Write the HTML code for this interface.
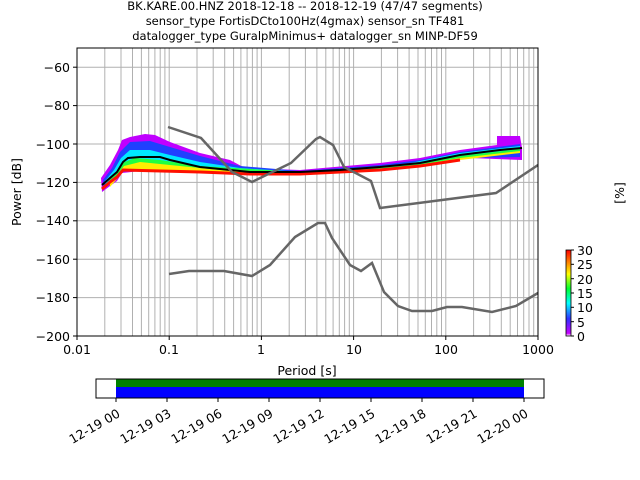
<!DOCTYPE html>
<html><head><meta charset="utf-8"><style>
body{margin:0;background:#fff;}
svg{display:block;font-family:"DejaVu Sans","Liberation Sans",sans-serif;}
</style></head><body>
<svg width="640" height="480" viewBox="0 0 640 480">
<defs>
<clipPath id="c"><rect x="77" y="48" width="461" height="288"/></clipPath>
<linearGradient id="cb" x1="0" y1="1" x2="0" y2="0">
<stop offset="0" stop-color="#ffffff"/><stop offset="0.03" stop-color="#c800ff"/>
<stop offset="0.2" stop-color="#3030ff"/><stop offset="0.38" stop-color="#00ffff"/>
<stop offset="0.55" stop-color="#00ff30"/><stop offset="0.72" stop-color="#ffff00"/>
<stop offset="0.86" stop-color="#ff8000"/><stop offset="1" stop-color="#ff0000"/>
</linearGradient>
</defs>
<g font-size="11.5" text-anchor="middle" fill="#000" xml:space="preserve">
<text x="305" y="10">BK.KARE.00.HNZ   2018-12-18 -- 2018-12-19  (47/47 segments)</text>
<text x="305" y="25">sensor_type FortisDCto100Hz(4gmax) sensor_sn TF481</text>
<text x="305" y="40">datalogger_type GuralpMinimus+ datalogger_sn MINP-DF59</text>
</g>
<g stroke="#b0b0b0" stroke-width="1">
<g id="dec">
<line x1="77" y1="48" x2="77" y2="336"/><line x1="104.8" y1="48" x2="104.8" y2="336"/><line x1="121" y1="48" x2="121" y2="336"/><line x1="132.5" y1="48" x2="132.5" y2="336"/><line x1="141.4" y1="48" x2="141.4" y2="336"/><line x1="148.7" y1="48" x2="148.7" y2="336"/><line x1="154.9" y1="48" x2="154.9" y2="336"/><line x1="160.2" y1="48" x2="160.2" y2="336"/><line x1="164.9" y1="48" x2="164.9" y2="336"/>
</g>
<use href="#dec" x="92.2"/><use href="#dec" x="184.4"/><use href="#dec" x="276.6"/><use href="#dec" x="368.8"/>
<line x1="77" y1="67.2" x2="538" y2="67.2"/><line x1="77" y1="105.6" x2="538" y2="105.6"/><line x1="77" y1="144" x2="538" y2="144"/><line x1="77" y1="182.4" x2="538" y2="182.4"/><line x1="77" y1="220.8" x2="538" y2="220.8"/><line x1="77" y1="259.2" x2="538" y2="259.2"/><line x1="77" y1="297.6" x2="538" y2="297.6"/>
</g>
<g clip-path="url(#c)">
<polygon fill="#c000ff" points="101,178 110,165 118,150 122,140 130,137 145,134 155,135 170,142 200,153 230,160 245,168 300,170 380,163 420,158 460,150 497,145 497,136 520,136 522,148 522,160 470,158 420,166 380,170 300,174 250,174 200,173 170,172 140,171 122,173 117,181 110,186 102,192"/>
<polygon fill="#2040ff" points="103,180 112,168 120,152 130,142 150,141 170,147 200,156 240,166 300,171 380,165 420,160 460,152 520,144 520,157 470,158 420,165 380,169 300,173 200,172 140,170 122,172 115,180 104,188"/>
<polygon fill="#00e8ff" points="105,181 114,170 121,158 130,150 150,150 170,155 200,162 240,168 300,172 400,165 460,153 520,146 520,153 470,156 420,164 380,168 300,173 200,171 140,168 122,170 115,178 106,186"/>
<polygon fill="#20ff40" points="108,182 116,172 122,163 135,158 160,160 200,166 300,172 400,166 460,156 520,149 520,152 460,159 400,168 300,174 200,171 140,169 122,171 116,178 108,186"/>
<polygon fill="#ffee00" points="110,183 118,174 124,166 140,162 170,165 220,170 300,173 400,168 460,158 520,151 520,153 460,160 400,169 300,174.5 220,172 160,170 124,171 116,180 110,187"/>
<polyline fill="none" stroke="#ff1000" stroke-width="3" points="102,189 110,182 117,177 123,170 200,172 250,174 300,174 380,170 420,166 460,160"/>
<polyline fill="none" stroke="#000" stroke-width="2" points="102,185 110,178 117,172 123,162 128,158 140,157 160,157 170,160 200,167 230,170 250,172 300,172 340,170 380,167 420,163 460,155 500,150 522,148"/>
<g fill="none" stroke="#666" stroke-width="2.5">
<polyline points="168,127 201,138 232,172 252,182 291,163 316,139 320,137 333,145 344,167 371,181 380,208 496,193 538,165"/>
<polyline points="169,274 189,271 224,271 252,276 270,265 295,237 318,223 325,223 332,238 350,265 361,271 372,263 384,292 398,306 412,311 432,311 447,307 462,307 492,312 516,306 538,293"/>
</g>
</g>
<rect x="77" y="48" width="461" height="288" fill="none" stroke="#000" stroke-width="1"/>
<g stroke="#000"><line x1="73" y1="67.2" x2="77" y2="67.2"/><line x1="73" y1="105.6" x2="77" y2="105.6"/><line x1="73" y1="144" x2="77" y2="144"/><line x1="73" y1="182.4" x2="77" y2="182.4"/><line x1="73" y1="220.8" x2="77" y2="220.8"/><line x1="73" y1="259.2" x2="77" y2="259.2"/><line x1="73" y1="297.6" x2="77" y2="297.6"/><line x1="73" y1="336" x2="77" y2="336"/>
<line x1="77" y1="336" x2="77" y2="340"/><line x1="169.2" y1="336" x2="169.2" y2="340"/><line x1="261.4" y1="336" x2="261.4" y2="340"/><line x1="353.6" y1="336" x2="353.6" y2="340"/><line x1="445.8" y1="336" x2="445.8" y2="340"/><line x1="538" y1="336" x2="538" y2="340"/></g>
<g font-size="12.5" text-anchor="end"><text x="70" y="72">−60</text><text x="70" y="110">−80</text><text x="70" y="149">−100</text><text x="70" y="187">−120</text><text x="70" y="225">−140</text><text x="70" y="264">−160</text><text x="70" y="302">−180</text><text x="70" y="341">−200</text></g>
<g font-size="12.5" text-anchor="middle"><text x="77" y="354">0.01</text><text x="169" y="354">0.1</text><text x="261" y="354">1</text><text x="354" y="354">10</text><text x="446" y="354">100</text><text x="538" y="354">1000</text>
<text x="307" y="375">Period [s]</text></g>
<text font-size="12.5" text-anchor="middle" transform="translate(21,192) rotate(-90)">Power [dB]</text>
<rect x="566" y="250" width="5" height="86" fill="url(#cb)" stroke="#000" stroke-width="0.8"/>
<g font-size="12.5"><text x="577" y="255">30</text><text x="577" y="269">25</text><text x="577" y="284">20</text><text x="577" y="298">15</text><text x="577" y="312">10</text><text x="577" y="327">5</text><text x="577" y="341">0</text></g>
<g stroke="#000"><line x1="571" y1="250" x2="574" y2="250"/><line x1="571" y1="264.3" x2="574" y2="264.3"/><line x1="571" y1="278.7" x2="574" y2="278.7"/><line x1="571" y1="293" x2="574" y2="293"/><line x1="571" y1="307.3" x2="574" y2="307.3"/><line x1="571" y1="321.7" x2="574" y2="321.7"/><line x1="571" y1="336" x2="574" y2="336"/></g>
<text font-size="12.5" text-anchor="middle" transform="translate(624,193) rotate(-90)">[%]</text>
<rect x="116" y="379" width="408" height="8" fill="#008000"/>
<rect x="116" y="387" width="408" height="11" fill="#0000ff"/>
<rect x="96" y="379" width="448" height="19" fill="none" stroke="#000" stroke-width="1"/>
<g stroke="#000"><line x1="116" y1="398" x2="116" y2="402"/><line x1="167" y1="398" x2="167" y2="402"/><line x1="218" y1="398" x2="218" y2="402"/><line x1="269" y1="398" x2="269" y2="402"/><line x1="320" y1="398" x2="320" y2="402"/><line x1="371" y1="398" x2="371" y2="402"/><line x1="422" y1="398" x2="422" y2="402"/><line x1="473" y1="398" x2="473" y2="402"/><line x1="524" y1="398" x2="524" y2="402"/></g>
<g font-size="12.5" text-anchor="end">
<text transform="translate(121,416) rotate(-30)">12-19 00</text>
<text transform="translate(172,416) rotate(-30)">12-19 03</text>
<text transform="translate(223,416) rotate(-30)">12-19 06</text>
<text transform="translate(274,416) rotate(-30)">12-19 09</text>
<text transform="translate(325,416) rotate(-30)">12-19 12</text>
<text transform="translate(376,416) rotate(-30)">12-19 15</text>
<text transform="translate(427,416) rotate(-30)">12-19 18</text>
<text transform="translate(478,416) rotate(-30)">12-19 21</text>
<text transform="translate(529,416) rotate(-30)">12-20 00</text>
</g>
</svg>
</body></html>
